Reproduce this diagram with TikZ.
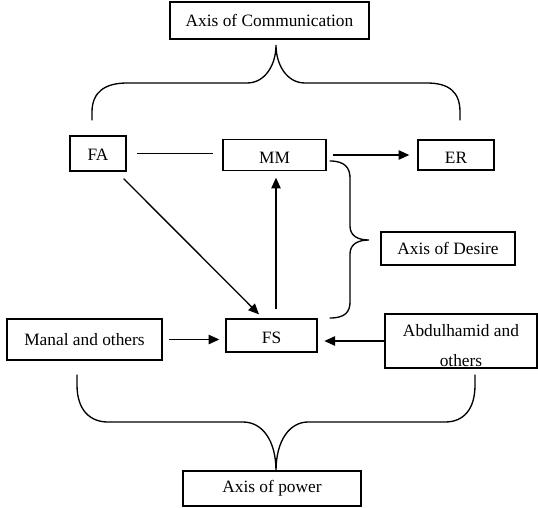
\documentclass[tikz,border=0pt]{standalone}
\usepackage{fontspec}
\setmainfont{Liberation Serif}
\usetikzlibrary{arrows.meta,calc}
\tikzset{
  box/.style={draw, line width=1pt, rectangle, inner sep=0pt, align=center,
    font=\fontsize{13}{23}\selectfont},
  low/.style={text height=#1, text depth=0pt},
  conn/.style={line width=1pt},
  arr/.style={line width=1pt, -{Triangle[length=8pt,width=7pt]}},
  brace/.style={line width=1pt, line cap=round}
}
\begin{document}
\begin{tikzpicture}[x=0.75pt,y=-0.75pt]
\useasboundingbox (0,0) rectangle (538,507);
% boxes
\node[box, minimum width=149.25pt, minimum height=27.75pt] (comm) at (269.5,20.5) {Axis of Communication};
\node[box, low=10pt, minimum width=42pt, minimum height=26.25pt] (FA) at (98,153.5) {FA};
\node[box, low=13pt, minimum width=77.25pt, minimum height=23.25pt] (MM) at (274.5,155) {MM};
\node[box, low=13pt, minimum width=57pt, minimum height=22.5pt] (ER) at (456,155) {ER};
\node[box, minimum width=100.5pt, minimum height=24.75pt] (desire) at (448,248.5) {Axis of Desire};
\node[box, low=12.5pt, minimum width=68.25pt, minimum height=24.75pt] (FS) at (271.5,335.5) {FS};
\node[box, minimum width=116.25pt, minimum height=30.75pt] (manal) at (84.5,339.5) {Manal and others};
\node[box, minimum width=114pt, minimum height=40.5pt] (abdul) at (461,341)
  {\smash{\raisebox{-6.25pt}{\begin{tabular}[c]{@{}c@{}}Abdulhamid and\\ others\end{tabular}}}};
\node[box, minimum width=133.5pt, minimum height=26.25pt] (power) at (272,488.5) {Axis of power};
% connectors
\draw[conn, shorten <=8pt, shorten >=7pt] (FA.east) -- (FA.east -| MM.west);
\draw[arr, shorten <=4.5pt, shorten >=6pt] (MM.east) -- (MM.east -| ER.west);
\draw[arr] ($(FA.south east)+(-3,7)$) -- ($(FS.north)+(-12.5,-4)$);
\draw[arr] ($(FS.north)+(4.5,-9)$) -- ($(MM.south)+(1.5,6.5)$);
\draw[arr, shorten <=4.5pt, shorten >=4.5pt] (manal.east) -- (manal.east -| FS.west);
\draw[arr, shorten >=5pt] (abdul.west) -- (abdul.west -| FS.east);
% top brace
\draw[brace] (92,120) -- (92,112) .. controls (92,92) and (105,83) .. (127,83) -- (247,83)
  .. controls (265,83) and (276,65) .. (276,45)
  .. controls (276,65) and (287,83) .. (305,83) -- (427,83)
  .. controls (449,83) and (460,92) .. (460,112) -- (460,120);
% desire brace
\draw[brace] (330,161) .. controls (345,161) and (350,168) .. (350,178) -- (350,226)
  .. controls (350,236) and (358,240) .. (369,240)
  .. controls (358,240) and (350,244) .. (350,254) -- (350,302)
  .. controls (350,312) and (345,318) .. (330,318);
% bottom brace
\draw[brace] (77,375) -- (77,385) .. controls (77,410) and (90,422) .. (108,422) -- (243,422)
  .. controls (262,422) and (276,440) .. (276,471)
  .. controls (276,440) and (290,422) .. (308,422) -- (445,422)
  .. controls (463,422) and (475,410) .. (475,385) -- (475,375);
\end{tikzpicture}
\end{document}
